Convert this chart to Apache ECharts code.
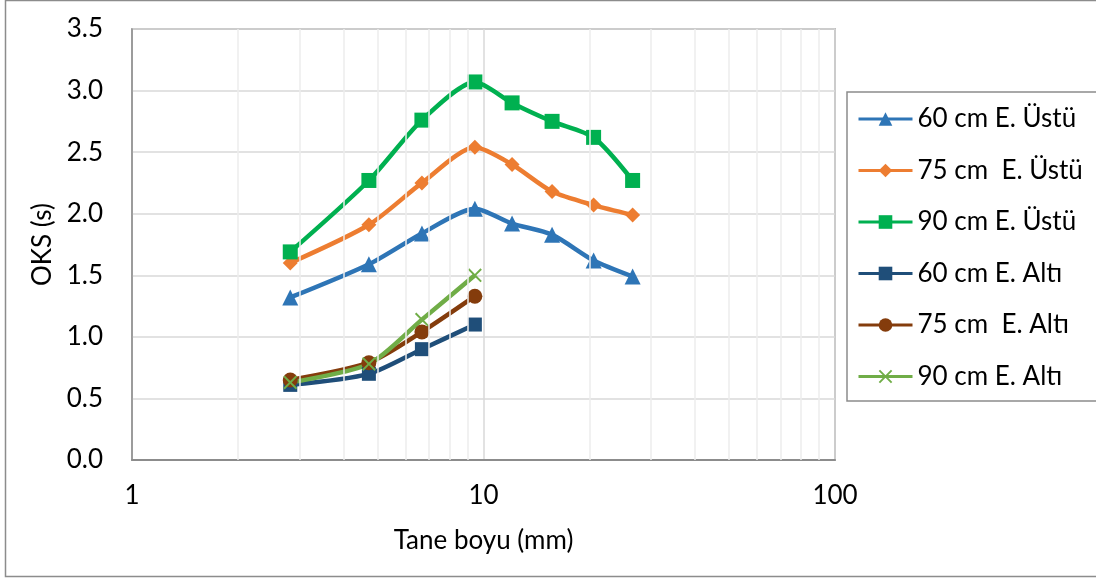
<!DOCTYPE html>
<html>
<head>
<meta charset="utf-8">
<script src="https://cdn.jsdelivr.net/npm/echarts@6/dist/echarts.min.js"></script>
<style>html,body{margin:0;padding:0;background:#fff}#c{width:1096px;height:578px}</style>
</head>
<body>
<div id="c"></div>
<script>
const tanes = [2.82, 4.72, 6.68, 9.45, 12.06, 15.67, 20.57, 26.56];
const ust60 = [1.32, 1.59, 1.84, 2.04, 1.92, 1.83, 1.62, 1.49];
const ust75 = [1.60, 1.91, 2.25, 2.54, 2.40, 2.18, 2.07, 1.99];
const ust90 = [1.69, 2.27, 2.76, 3.07, 2.90, 2.75, 2.62, 2.27];
const alt60 = [0.61, 0.70, 0.90, 1.10];
const alt75 = [0.65, 0.79, 1.04, 1.33];
const alt90 = [0.63, 0.78, 1.14, 1.50];
const seriesNames = ['60 cm E. Üstü', '75 cm  E. Üstü', '90 cm E. Üstü', '60 cm E. Altı', '75 cm  E. Altı', '90 cm E. Altı'];
const minorGrid = [2, 3, 4, 5, 6, 7, 8, 9, 20, 30, 40, 50, 60, 70, 80, 90];

const FONT = 'Lato';
const FS = 26;
const crossPath = 'path://M0,1 L1,0 L5,4 L9,0 L10,1 L6,5 L10,9 L9,10 L5,6 L1,10 L0,9 L4,5 Z';

function pairs(vals) { return vals.map((v, i) => [tanes[i], v]); }

function mk(name, vals, color, symbol, size) {
  return {
    name: name, type: 'line', data: pairs(vals), smooth: 0.25,
    symbol: symbol, symbolSize: size, z: 3,
    lineStyle: { color: color, width: 4.5 },
    itemStyle: { color: color },
    emphasis: { disabled: true }
  };
}

const chart = echarts.init(document.getElementById('c'));
chart.setOption({
  animation: false,
  textStyle: { fontFamily: FONT },
  grid: { left: 132, top: 29, right: 261, bottom: 118, show: true, borderColor: '#8c8c8c', borderWidth: 1.5, containLabel: false },
  xAxis: {
    type: 'log', logBase: 10, min: 1, max: 100,
    name: 'Tane boyu (mm)', nameLocation: 'middle', nameGap: 68,
    nameTextStyle: { fontSize: FS, color: '#000', fontFamily: FONT },
    axisLabel: { fontSize: FS, color: '#000', margin: 23, fontFamily: FONT },
    axisTick: { show: false },
    axisLine: { show: true, lineStyle: { color: '#8c8c8c', width: 2 } },
    splitLine: { show: true, lineStyle: { color: '#d9d9d9', width: 1.5 } }
  },
  yAxis: {
    type: 'value', min: 0, max: 3.5, interval: 0.5,
    name: 'OKS (s)', nameLocation: 'middle', nameGap: 74, nameRotate: 90,
    nameTextStyle: { fontSize: FS, color: '#000', fontFamily: FONT },
    axisLabel: { fontSize: FS, color: '#000', margin: 29, fontFamily: FONT, formatter: v => v.toFixed(1) },
    axisTick: { show: false },
    axisLine: { show: true, lineStyle: { color: '#8c8c8c', width: 1.5 } },
    splitLine: { show: true, lineStyle: { color: '#d9d9d9', width: 1.5 } }
  },
  legend: {
    orient: 'vertical', left: 852, top: 101,
    data: seriesNames,
    itemWidth: 54, itemHeight: 17, itemGap: 25.5,
    lineStyle: { width: 3 },
    textStyle: { fontSize: FS, color: '#000', fontFamily: FONT },
    selectedMode: false
  },
  graphic: [
    { type: 'rect', shape: { x: 5.5, y: 0.5, width: 1100, height: 576 }, style: { fill: 'none', stroke: '#8c8c8c', lineWidth: 1.5 }, silent: true, z: -1 },
    { type: 'rect', shape: { x: 847, y: 92, width: 260, height: 309 }, style: { fill: 'none', stroke: '#8c8c8c', lineWidth: 1.5 }, silent: true, z: -1 }
  ],
  series: [
    {
      name: 'minor', type: 'line', data: [], z: 1, silent: true,
      markLine: {
        silent: true, symbol: 'none', label: { show: false },
        lineStyle: { color: '#ececec', type: 'solid', width: 1.5 },
        emphasis: { disabled: true },
        data: minorGrid.map(v => ({ xAxis: v }))
      }
    },
    mk(seriesNames[0], ust60, '#2E75B6', 'triangle', 16),
    mk(seriesNames[1], ust75, '#ED7D31', 'diamond', 15),
    mk(seriesNames[2], ust90, '#00B050', 'rect', 15),
    mk(seriesNames[3], alt60, '#1F4E79', 'rect', 14),
    mk(seriesNames[4], alt75, '#843C0C', 'circle', 15),
    mk(seriesNames[5], alt90, '#70AD47', crossPath, 14)
  ]
});
</script>
</body>
</html>
